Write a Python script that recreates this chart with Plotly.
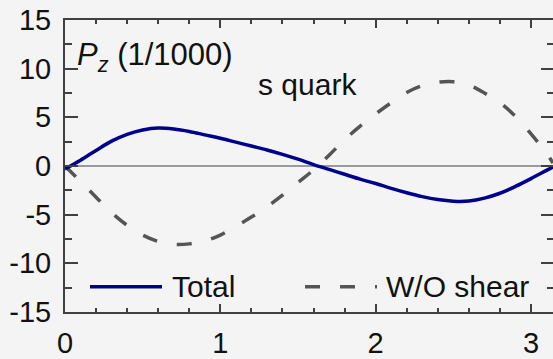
import math
import plotly.graph_objects as go

# Polarization P_z (in units of 1/1000) for the s quark
x_total = [0.0, 0.1, 0.2, 0.3, 0.4, 0.5, 0.6, 0.7, 0.8, 0.9, 1.0, 1.1, 1.2, 1.3,
           1.4, 1.5, 1.6, 1.7, 1.8, 1.9, 2.0, 2.1, 2.2, 2.3, 2.4, 2.5, 2.6, 2.7,
           2.8, 2.9, 3.0, 3.1, math.pi]
y_total = [-0.3, 0.6, 1.6, 2.55, 3.25, 3.7, 3.9, 3.8, 3.55, 3.2, 2.85, 2.45, 2.05,
           1.65, 1.2, 0.7, 0.15, -0.35, -0.85, -1.35, -1.8, -2.3, -2.75, -3.15,
           -3.45, -3.62, -3.6, -3.3, -2.8, -2.1, -1.3, -0.45, -0.1]

x_noshear = x_total
y_noshear = [0.0, -1.6, -3.2, -4.8, -6.1, -7.1, -7.75, -8.05, -8.0, -7.7, -7.1,
             -6.2, -5.25, -4.2, -3.0, -1.7, -0.4, 1.1, 2.7, 4.1, 5.35, 6.5, 7.55,
             8.25, 8.6, 8.65, 8.3, 7.5, 6.5, 5.1, 3.3, 1.3, 0.3]

y_ticks = [-15, -10, -5, 0, 5, 10, 15]
y_ticktext = ["-15", "-10", "-5", "0", "5", "10", "15"]
x_ticks = [0, 1, 2, 3]
x_ticktext = ["0", "1", "2", "3"]

FONT = "Arial, Liberation Sans, sans-serif"
NAVY = "#00008b"
GREY = "#555555"
AXIS = "#404040"
BG = "#f4f4f4"

W, H = 553, 359
ML, MT, MR, MB = 65, 20, 0, 37
PW, PH = W - ML - MR, H - MT - MB


def px(xp):
    return (xp - ML) / PW


def py(yp):
    return (H - MB - yp) / PH


fig = go.Figure()
fig.add_trace(go.Scatter(x=x_noshear, y=y_noshear, mode="lines", line_shape="spline",
                         line=dict(color=GREY, width=3.5, dash="15px,20px"),
                         name="W/O shear", showlegend=False))
fig.add_trace(go.Scatter(x=x_total, y=y_total, mode="lines", line_shape="spline",
                         line=dict(color=NAVY, width=3.5),
                         name="Total", showlegend=False))
# carrier for the right-hand tick marks
fig.add_trace(go.Scatter(x=[None], y=[None], yaxis="y2", showlegend=False,
                         hoverinfo="skip"))

fig.update_layout(
    width=W, height=H,
    margin=dict(l=ML, r=MR, t=MT, b=MB, pad=0),
    paper_bgcolor=BG, plot_bgcolor=BG,
    font=dict(family=FONT, size=29, color="#111111"),
    xaxis=dict(range=[0, math.pi], showgrid=False, zeroline=False,
               showline=True, linecolor=AXIS, linewidth=2, mirror="ticks",
               ticks="inside", ticklen=8, tickwidth=1.5, tickcolor=AXIS,
               tickmode="array", tickvals=x_ticks, ticktext=x_ticktext,
               ticklabelstandoff=4,
               minor=dict(dtick=0.2, ticks="inside", ticklen=4, tickwidth=1.5,
                          tickcolor=AXIS, showgrid=False)),
    yaxis=dict(range=[-15, 15], showgrid=False, zeroline=True,
               zerolinecolor="#9a9a9a", zerolinewidth=1.5,
               showline=True, linecolor=AXIS, linewidth=2,
               ticks="inside", ticklen=13, tickwidth=1.5, tickcolor=AXIS,
               tickmode="array", tickvals=y_ticks, ticktext=y_ticktext,
               ticklabelstandoff=6,
               minor=dict(dtick=2.5, ticks="inside", ticklen=7, tickwidth=1.5,
                          tickcolor=AXIS, showgrid=False)),
    yaxis2=dict(range=[-15, 15], overlaying="y", side="right", showgrid=False,
                zeroline=False, showline=False, showticklabels=False,
                ticks="inside", ticklen=12, tickwidth=1.5, tickcolor=AXIS,
                tickmode="array", tickvals=y_ticks,
                minor=dict(dtick=2.5, ticks="inside", ticklen=6, tickwidth=1.5,
                           tickcolor=AXIS, showgrid=False)),
)

# legend drawn inside the frame
fig.add_shape(type="line", xref="paper", yref="paper",
              x0=px(90), x1=px(162), y0=py(296), y1=py(296),
              line=dict(color=NAVY, width=3.5))
fig.add_shape(type="line", xref="paper", yref="paper",
              x0=px(305), x1=px(377), y0=py(296), y1=py(296),
              line=dict(color=GREY, width=3.5, dash="15px,20px"))

annotations = [
    dict(text="Total", x=px(170), y=py(296), xanchor="left", yanchor="middle", size=30),
    dict(text="W/O shear", x=px(384), y=py(296), xanchor="left", yanchor="middle", size=30),
    dict(text="s quark", x=px(307), y=py(87), xanchor="center", yanchor="middle", size=30),
    dict(text="<i>P</i><sub><i>z</i></sub> (1/1000)", x=px(75), y=py(58),
         xanchor="left", yanchor="middle", size=31),
]
for a in annotations:
    size = a.pop("size")
    fig.add_annotation(xref="paper", yref="paper", showarrow=False,
                       font=dict(family=FONT, size=size, color="#111111"), **a)

fig.write_html("out.html")
